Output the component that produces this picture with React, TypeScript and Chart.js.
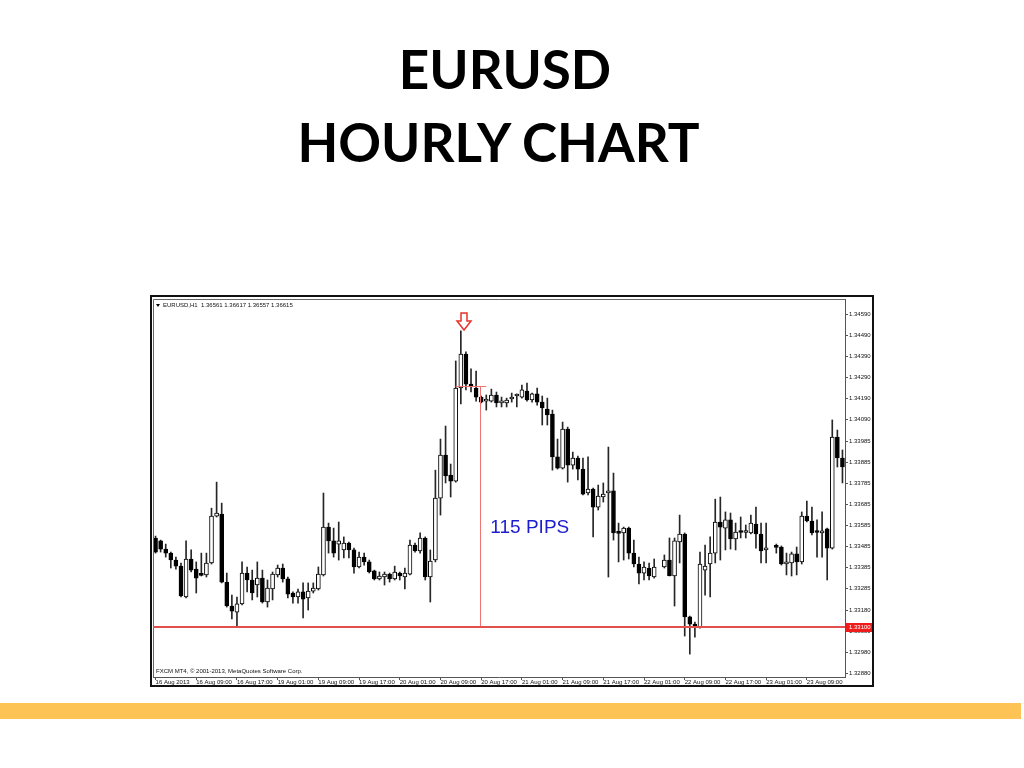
import React, { useEffect, useRef } from "react";
import { Chart, registerables } from "chart.js";

Chart.register(...registerables);

// ---- Data: EURUSD H1 candles (16 Aug 2013 01:00 .. 23 Aug 2013 16:00) ----
const opens: (number | null)[] = [
  1.33524, 1.33510, 1.33471, 1.33452, 1.33419, 1.33390, 1.33243, 1.33424, 1.33376, 1.33348,
  1.33348, 1.33405, 1.33628, 1.33638, 1.33314, 1.33200, 1.33171, 1.33210, 1.33357, 1.33324,
  1.33300, 1.33333, 1.33219, 1.33281, 1.33348, 1.33381, 1.33329, 1.33262, 1.33243, 1.33267,
  1.33238, 1.33271, 1.33281, 1.33348, 1.33576, 1.33510, 1.33495, 1.33467, 1.33500, 1.33467,
  1.33386, 1.33433, 1.33410, 1.33367, 1.33329, 1.33338, 1.33352, 1.33329, 1.33357, 1.33338,
  1.33352, 1.33490, 1.33462, 1.33524, 1.33338, 1.33419, 1.33714, 1.33919, 1.33824, 1.33795,
  1.34238, 1.34400, 1.34257, 1.34238, 1.34195, 1.34176, 1.34176, 1.34205, 1.34167, 1.34167,
  1.34186, 1.34200, 1.34195, 1.34224, 1.34181, 1.34210, 1.34171, 1.34138, 1.34114, 1.33910,
  1.33857, 1.34043, 1.33871, 1.33905, 1.33852, 1.33738, 1.33757, 1.33671, 1.33719, 1.33738,
  1.33748, 1.33548, 1.33548, 1.33571, 1.33452, 1.33400, 1.33357, 1.33381, 1.33338, null,
  1.33386, 1.33419, 1.33343, 1.33505, 1.33543, 1.33148, 1.33114, 1.33100, 1.33371, 1.33400,
  1.33452, 1.33600, 1.33571, 1.33610, 1.33519, 1.33552, 1.33550, 1.33548, 1.33590, 1.33543,
  1.33467, null, 1.33481, 1.33481, 1.33400, 1.33405, 1.33448, 1.33410, 1.33628, 1.33605,
  1.33552, 1.33548, 1.33567, 1.33476, 1.34005, 1.33905,
];
const highs: (number | null)[] = [
  1.33533, 1.33514, 1.33495, 1.33457, 1.33433, 1.33405, 1.33510, 1.33467, 1.33410, 1.33452,
  1.33452, 1.33666, 1.33790, 1.33690, 1.33357, 1.33252, 1.33243, 1.33410, 1.33386, 1.33371,
  1.33410, 1.33371, 1.33324, 1.33362, 1.33395, 1.33400, 1.33338, 1.33267, 1.33281, 1.33310,
  1.33310, 1.33310, 1.33386, 1.33738, 1.33595, 1.33571, 1.33600, 1.33529, 1.33505, 1.33476,
  1.33457, 1.33452, 1.33419, 1.33371, 1.33362, 1.33362, 1.33357, 1.33390, 1.33362, 1.33381,
  1.33514, 1.33500, 1.33548, 1.33529, 1.33467, 1.33847, 1.33995, 1.34057, 1.33876, 1.34367,
  1.34510, 1.34410, 1.34329, 1.34319, 1.34200, 1.34205, 1.34233, 1.34219, 1.34195, 1.34190,
  1.34214, 1.34210, 1.34252, 1.34262, 1.34214, 1.34238, 1.34200, 1.34190, 1.34133, 1.33995,
  1.34076, 1.34052, 1.33933, 1.33914, 1.33905, 1.33910, 1.33762, 1.33776, 1.33786, 1.33957,
  1.33833, 1.33595, 1.33576, 1.33576, 1.33514, 1.33433, 1.33410, 1.33405, 1.33424, null,
  1.33443, 1.33524, 1.33524, 1.33633, 1.33548, 1.33152, 1.33124, 1.33457, 1.33490, 1.33529,
  1.33709, 1.33719, 1.33648, 1.33643, 1.33595, 1.33624, 1.33586, 1.33633, 1.33671, 1.33595,
  1.33595, null, 1.33495, 1.33486, 1.33452, 1.33457, 1.33481, 1.33648, 1.33700, 1.33671,
  1.33610, 1.33648, 1.33571, 1.34086, 1.34038, 1.33943,
];
const lows: (number | null)[] = [
  1.33452, 1.33457, 1.33433, 1.33381, 1.33376, 1.33243, 1.33238, 1.33362, 1.33262, 1.33343,
  1.33338, 1.33400, 1.33624, 1.33310, 1.33195, 1.33138, 1.33105, 1.33205, 1.33267, 1.33229,
  1.33243, 1.33214, 1.33195, 1.33229, 1.33338, 1.33314, 1.33238, 1.33214, 1.33214, 1.33143,
  1.33181, 1.33262, 1.33276, 1.33343, 1.33452, 1.33433, 1.33419, 1.33429, 1.33429, 1.33357,
  1.33381, 1.33395, 1.33357, 1.33324, 1.33324, 1.33300, 1.33314, 1.33324, 1.33324, 1.33281,
  1.33348, 1.33457, 1.33452, 1.33324, 1.33219, 1.33410, 1.33633, 1.33786, 1.33719, 1.33790,
  1.34162, 1.34229, 1.34219, 1.34176, 1.34167, 1.34133, 1.34171, 1.34148, 1.34148, 1.34148,
  1.34171, 1.34148, 1.34190, 1.34176, 1.34171, 1.34157, 1.34062, 1.34062, 1.33847, 1.33852,
  1.33852, 1.33790, 1.33852, 1.33800, 1.33729, 1.33729, 1.33529, 1.33657, 1.33695, 1.33338,
  1.33514, 1.33410, 1.33419, 1.33424, 1.33386, 1.33305, 1.33324, 1.33324, 1.33333, null,
  1.33381, 1.33343, 1.33200, 1.33405, 1.33057, 1.32971, 1.33052, 1.33095, 1.33252, 1.33243,
  1.33405, 1.33419, 1.33467, 1.33471, 1.33467, 1.33524, 1.33524, 1.33543, 1.33476, 1.33405,
  1.33405, null, 1.33452, 1.33395, 1.33348, 1.33343, 1.33348, 1.33400, 1.33600, 1.33538,
  1.33433, 1.33433, 1.33324, 1.33471, 1.33862, 1.33786,
];
const closes: (number | null)[] = [
  1.33457, 1.33471, 1.33452, 1.33419, 1.33390, 1.33248, 1.33424, 1.33371, 1.33333, 1.33346,
  1.33405, 1.33628, 1.33643, 1.33314, 1.33200, 1.33176, 1.33210, 1.33357, 1.33324, 1.33262,
  1.33333, 1.33219, 1.33286, 1.33352, 1.33381, 1.33329, 1.33257, 1.33243, 1.33267, 1.33233,
  1.33271, 1.33286, 1.33352, 1.33576, 1.33510, 1.33452, 1.33510, 1.33500, 1.33467, 1.33386,
  1.33433, 1.33410, 1.33362, 1.33329, 1.33343, 1.33352, 1.33329, 1.33362, 1.33343, 1.33357,
  1.33490, 1.33462, 1.33524, 1.33338, 1.33414, 1.33714, 1.33919, 1.33819, 1.33795, 1.34238,
  1.34400, 1.34257, 1.34243, 1.34195, 1.34171, 1.34186, 1.34205, 1.34167, 1.34171, 1.34181,
  1.34195, 1.34202, 1.34229, 1.34181, 1.34210, 1.34171, 1.34143, 1.34110, 1.33910, 1.33857,
  1.34043, 1.33871, 1.33905, 1.33852, 1.33733, 1.33757, 1.33671, 1.33724, 1.33733, 1.33748,
  1.33548, 1.33546, 1.33571, 1.33452, 1.33400, 1.33357, 1.33386, 1.33343, 1.33386, null,
  1.33419, 1.33345, 1.33510, 1.33543, 1.33148, 1.33114, 1.33100, 1.33400, 1.33390, 1.33452,
  1.33600, 1.33576, 1.33610, 1.33519, 1.33552, 1.33550, 1.33552, 1.33595, 1.33543, 1.33462,
  1.33476, null, 1.33479, 1.33400, 1.33410, 1.33448, 1.33410, 1.33628, 1.33605, 1.33548,
  1.33550, 1.33557, 1.33476, 1.34005, 1.33905, 1.33862,
];

// Time axis labels, one every 8 hourly bars
const timeLabels = [
  "16 Aug 2013", "16 Aug 09:00", "16 Aug 17:00", "19 Aug 01:00", "19 Aug 09:00",
  "19 Aug 17:00", "20 Aug 01:00", "20 Aug 09:00", "20 Aug 17:00", "21 Aug 01:00",
  "21 Aug 09:00", "21 Aug 17:00", "22 Aug 01:00", "22 Aug 09:00", "22 Aug 17:00",
  "23 Aug 01:00", "23 Aug 09:00",
];
const BARS_PER_LABEL = 8;

// Price axis labels
const priceTicks = [
  1.3459, 1.3449, 1.3439, 1.3429, 1.3419, 1.3409, 1.33985, 1.33885, 1.33785,
  1.33685, 1.33585, 1.33485, 1.33385, 1.33285, 1.3318, 1.3308, 1.3298, 1.3288,
];
const PRICE_MIN = 1.32862;
const PRICE_MAX = 1.34662;

// Annotations
const supportLevel = 1.331;
const measureTop = 1.3425;
const measureFromBar = 59;
const measureToBar = 65;
const measureBar = 64;
const arrowBar = 61;
const arrowTipPrice = 1.34514;
const pipsText = "115 PIPS";
const pipsBar = 66;
const pipsPrice = 1.33571;
const headerText = "EURUSD,H1  1.36561 1.36617 1.36557 1.36615";
const footerText = "FXCM MT4, \u00A9 2001-2013, MetaQuotes Software Corp.";

const SMALL_FONT = '6px "Liberation Sans", Arial, sans-serif';

export default function App() {
  const canvasRef = useRef<HTMLCanvasElement>(null);

  useEffect(() => {
    if (!canvasRef.current) return;
    const labels = opens.map((_, i) => String(i));
    const bodies = opens.map((o, i) => (o == null || closes[i] == null ? null : [o, closes[i] as number]));
    const wicks = lows.map((l, i) => (l == null || highs[i] == null ? null : [l, highs[i] as number]));
    const isBull = (i: number) => (closes[i] as number) >= (opens[i] as number);

    const annotations = {
      id: "mt4Annotations",
      beforeDraw(chart: any) {
        const { ctx, width, height } = chart;
        ctx.save();
        ctx.fillStyle = "#ffffff";
        ctx.fillRect(0, 0, width, height);
        ctx.restore();
      },
      afterDatasetsDraw(chart: any) {
        const { ctx, chartArea: a, scales } = chart;
        const x = scales.x;
        const y = scales.y;
        ctx.save();
        // frame top/left
        ctx.strokeStyle = "#666";
        ctx.lineWidth = 1;
        ctx.beginPath();
        ctx.moveTo(a.left + 0.5, a.bottom);
        ctx.lineTo(a.left + 0.5, a.top + 0.5);
        ctx.lineTo(a.right, a.top + 0.5);
        ctx.stroke();

        // support line
        const ys = Math.round(y.getPixelForValue(supportLevel));
        ctx.strokeStyle = "#e2504c";
        ctx.lineWidth = 2;
        ctx.beginPath();
        ctx.moveTo(a.left, ys);
        ctx.lineTo(a.right, ys);
        ctx.stroke();

        // measurement lines
        const xm = Math.round(x.getPixelForValue(measureBar)) - 0.5;
        const yt = Math.round(y.getPixelForValue(measureTop)) + 0.5;
        ctx.strokeStyle = "#ee7474";
        ctx.lineWidth = 1;
        ctx.beginPath();
        ctx.moveTo(xm, yt);
        ctx.lineTo(xm, ys - 1);
        ctx.stroke();
        ctx.beginPath();
        ctx.moveTo(x.getPixelForValue(measureFromBar), yt);
        ctx.lineTo(x.getPixelForValue(measureToBar), yt);
        ctx.stroke();

        // down arrow
        const cx = Math.round(x.getPixelForValue(arrowBar)) - 2;
        const ty = Math.round(y.getPixelForValue(arrowTipPrice));
        ctx.beginPath();
        ctx.moveTo(cx - 3, ty - 17);
        ctx.lineTo(cx + 3, ty - 17);
        ctx.lineTo(cx + 3, ty - 9);
        ctx.lineTo(cx + 7, ty - 9);
        ctx.lineTo(cx, ty);
        ctx.lineTo(cx - 7, ty - 9);
        ctx.lineTo(cx - 3, ty - 9);
        ctx.closePath();
        ctx.fillStyle = "#fff";
        ctx.fill();
        ctx.strokeStyle = "#e8322a";
        ctx.lineWidth = 1.5;
        ctx.stroke();

        // pips text
        ctx.fillStyle = "#1c1cd0";
        ctx.font = '19px "Liberation Sans", Arial, sans-serif';
        ctx.textAlign = "left";
        ctx.textBaseline = "middle";
        ctx.fillText(pipsText, x.getPixelForValue(pipsBar) - 1, y.getPixelForValue(pipsPrice));
        ctx.restore();
      },
      afterDraw(chart: any) {
        const { ctx, chartArea: a, scales } = chart;
        const y = scales.y;
        ctx.save();
        // price label of support line
        const ys = Math.round(y.getPixelForValue(supportLevel));
        ctx.fillStyle = "#f01c1c";
        ctx.fillRect(y.left + 1, ys - 4, 26, 9);
        ctx.fillStyle = "#fff";
        ctx.font = SMALL_FONT;
        ctx.textAlign = "left";
        ctx.textBaseline = "middle";
        ctx.fillText(supportLevel.toFixed(5), y.left + 4, ys + 0.5);

        // header
        ctx.fillStyle = "#000";
        ctx.beginPath();
        ctx.moveTo(a.left + 3, a.top + 5);
        ctx.lineTo(a.left + 7, a.top + 5);
        ctx.lineTo(a.left + 5, a.top + 8);
        ctx.closePath();
        ctx.fill();
        ctx.fillStyle = "#111";
        ctx.font = SMALL_FONT;
        ctx.textBaseline = "middle";
        ctx.fillText(headerText, a.left + 10, a.top + 6.5);
        // footer
        ctx.fillText(footerText, a.left + 3, a.bottom - 6);
        ctx.restore();
      },
    };

    const chart = new Chart(canvasRef.current, {
      type: "bar",
      data: {
        labels,
        datasets: [
          {
            label: "wick",
            data: wicks as any,
            backgroundColor: "#262626",
            borderWidth: 0,
            barThickness: 1,
            grouped: false,
            order: 2,
          } as any,
          {
            label: "body",
            data: bodies as any,
            backgroundColor: (c: any) => (isBull(c.dataIndex) ? "#ffffff" : "#000000"),
            borderColor: "#000000",
            borderWidth: 1,
            borderSkipped: false,
            barThickness: 4,
            minBarLength: 2,
            grouped: false,
            order: 1,
          } as any,
        ],
      },
      options: {
        animation: false,
        responsive: false,
        devicePixelRatio: 1,
        events: [],
        layout: { padding: { left: 1, top: 2, right: 0, bottom: 0 } },
        plugins: { legend: { display: false }, tooltip: { enabled: false }, title: { display: false } },
        scales: {
          x: {
            type: "category",
            offset: true,
            grid: { display: true, drawOnChartArea: false, drawTicks: true, tickLength: 3, color: "#555", offset: false },
            border: { display: true, color: "#555" },
            ticks: {
              autoSkip: false,
              maxRotation: 0,
              minRotation: 0,
              align: "start",
              padding: -1,
              color: "#111",
              font: { family: '"Liberation Sans", Arial, sans-serif', size: 6 },
              callback: (v: any) => timeLabels[Number(v) / BARS_PER_LABEL] ?? "",
            },
            afterBuildTicks: (s: any) => {
              s.ticks = s.ticks.filter((t: any) => t.value % BARS_PER_LABEL === 0);
            },
            afterFit: (s: any) => {
              s.height = 8;
              s.paddingLeft = 0;
              s.paddingRight = 0;
            },
          } as any,
          y: {
            type: "linear",
            position: "right",
            min: PRICE_MIN,
            max: PRICE_MAX,
            grid: { display: true, drawOnChartArea: false, drawTicks: true, tickLength: 3, color: "#555" },
            border: { display: true, color: "#555" },
            ticks: {
              padding: 1,
              color: "#111",
              font: { family: '"Liberation Sans", Arial, sans-serif', size: 6 },
              callback: (v: any) => Number(v).toFixed(5),
            },
            afterBuildTicks: (s: any) => {
              s.ticks = priceTicks.map((v) => ({ value: v }));
            },
            afterFit: (s: any) => {
              s.width = 27;
              s.paddingTop = 0;
              s.paddingBottom = 0;
            },
          } as any,
        },
      },
      plugins: [annotations],
    });
    return () => chart.destroy();
  }, []);

  const titleStyle: React.CSSProperties = {
    position: "absolute",
    textAlign: "center",
    fontFamily: "Lato, 'Open Sans', sans-serif",
    fontWeight: 700,
    fontSize: 53,
    lineHeight: "53px",
    color: "#000",
    whiteSpace: "nowrap",
    margin: 0,
  };

  return (
    <div style={{ position: "absolute", left: 0, top: 0, width: 1024, height: 768, background: "#fff", overflow: "hidden" }}>
      <div style={{ ...titleStyle, left: 0, width: 1010, top: 42 }}>EURUSD</div>
      <div style={{ ...titleStyle, left: 0, width: 997, top: 115 }}>HOURLY CHART</div>
      <div
        style={{
          position: "absolute",
          left: 150,
          top: 295,
          width: 724,
          height: 392,
          border: "2px solid #111",
          boxSizing: "border-box",
          background: "#fff",
        }}
      >
        <canvas ref={canvasRef} width={720} height={388} style={{ display: "block", width: 720, height: 388 }} />
      </div>
      <div style={{ position: "absolute", left: 0, top: 703, width: 1021, height: 16, background: "#fdc455" }} />
    </div>
  );
}
